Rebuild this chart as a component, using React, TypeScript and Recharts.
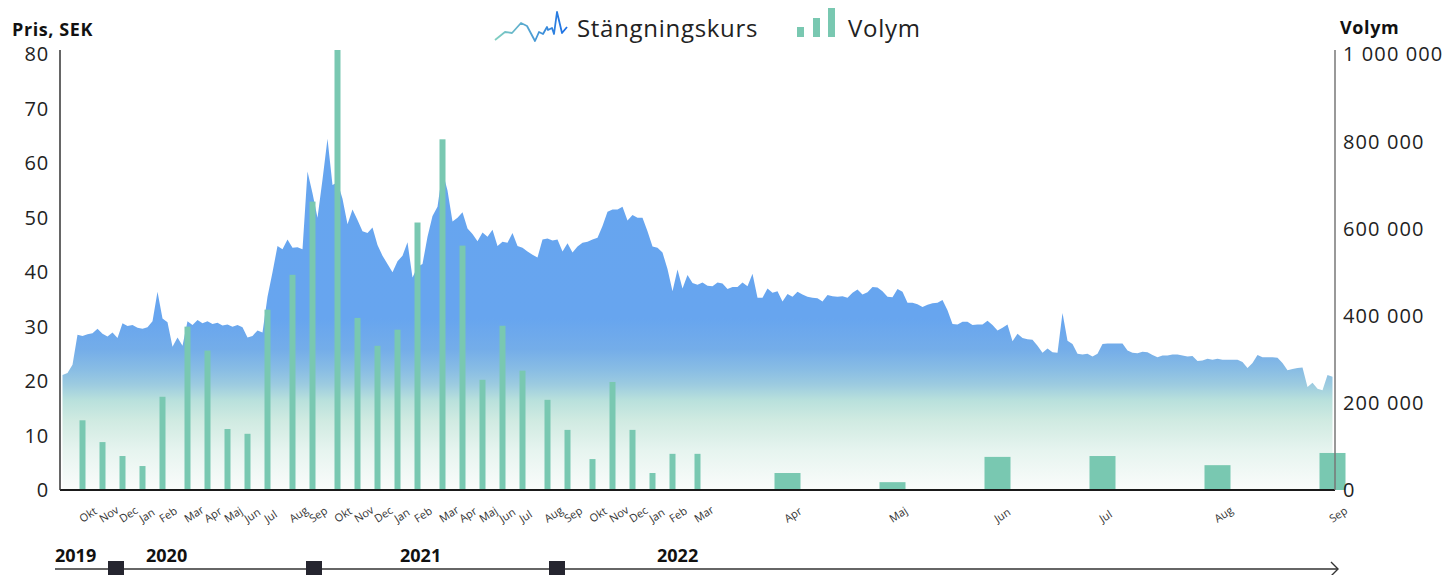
import { ComposedChart, Area, Bar, XAxis, YAxis } from "recharts";

// month names as printed on the axis (Sep 2019 .. Sep 2022)
const months = [
  "Sep", "Okt", "Nov", "Dec",
  "Jan", "Feb", "Mar", "Apr", "Maj", "Jun", "Jul", "Aug", "Sep", "Okt", "Nov", "Dec",
  "Jan", "Feb", "Mar", "Apr", "Maj", "Jun", "Jul", "Aug", "Sep", "Okt", "Nov", "Dec",
  "Jan", "Feb", "Mar", "Apr", "Maj", "Jun", "Jul", "Aug", "Sep"
];

// number of price observations per month (weekly up to Mar 2022, then daily)
const pointsPerMonth = [
  4, 4, 4, 4,
  4, 5, 4, 4, 4, 4, 5, 4, 5, 4, 4, 4,
  4, 5, 4, 4, 4, 4, 5, 4, 5, 4, 4, 4,
  4, 5, 18, 21, 21, 21, 23, 23, 1
];

// from this month on volume is shown as wide bars
const firstDailyMonth = 31;

// monthly volume, shares
const volumes: (number | null)[] = [
  null, 160000, 110000, 78000,
  55000, 214000, 375000, 320000, 140000, 129000, 414000, 494000, 662000, 1010000, 395000, 331000,
  368000, 614000, 805000, 561000, 253000, 377000, 274000, 207000, 138000, 71000, 248000, 138000,
  39000, 83000, 83000, 39000, 18000, 76000, 78000, 57000, 85000
];

// closing price, SEK
const closePrices = [
  21.1, 21.5, 23, 28.5, 28.3, 28.6, 28.8, 29.6, 28.7, 28.2,
  28.9, 27.9, 30.6, 30.1, 30.3, 29.8, 29.6, 29.9, 31, 36.4,
  31.5, 30.8, 26.3, 28, 26.5, 31, 30.3, 31.2, 30.6, 31,
  30.5, 30.7, 30.2, 30.4, 30, 30.3, 29.9, 28, 28.3, 29.3,
  28.9, 35.5, 40, 44.8, 44.2, 46, 44.5, 44.6, 44.2, 58.5,
  54.5, 50, 57, 64.5, 56, 56.5, 53.5, 48.8, 51.5, 49.6,
  47.5, 47.2, 48.2, 45, 43, 41.5, 40, 42, 43, 45.5,
  39, 41, 41.5, 46.5, 50.3, 52, 58.5, 55, 49.3, 50,
  51, 48, 47, 45.7, 47.3, 46.5, 47.8, 44.8, 45.6, 45.4,
  47.2, 44.8, 44.5, 43.8, 43.2, 42.7, 46, 46.2, 45.8, 46,
  43.8, 45.3, 43.6, 44.7, 45.4, 45.6, 46, 46.3, 48.5, 51.1,
  51.5, 51.5, 52, 49.5, 50.5, 50, 50, 47.5, 44.7, 44.5,
  43.6, 40.6, 36.5, 40.5, 37, 39.5, 38, 37.7, 38.1, 37.5,
  37.4, 38.1, 37.9, 36.9, 37.3, 37.3, 38.1, 37.4, 39.7, 35.3,
  35.3, 37, 36.2, 36.5, 34.6, 36, 35.5, 36.4, 35.9, 35.5,
  35.3, 35.2, 34.6, 35.8, 35.6, 35.5, 35.6, 35.3, 36.2, 36.8,
  35.9, 36.3, 37.3, 37.2, 36.5, 35.5, 35.4, 36.9, 36.4, 34.4,
  34.4, 34.1, 33.6, 34, 34.3, 34.4, 34.9, 33, 30.5, 30.4,
  30.9, 30.9, 30.3, 30.4, 30.4, 31.1, 30.3, 29.3, 29.8, 30.4,
  27.3, 28.7, 27.9, 27.7, 27.6, 26.5, 25.2, 26, 25.3, 25.2,
  32.5, 27.4, 26.8, 25, 24.9, 25, 24.5, 25, 26.8, 26.9,
  26.9, 26.9, 26.9, 25.6, 25.2, 25.1, 25.4, 25.3, 24.8, 24.4,
  24.7, 24.7, 24.9, 24.9, 24.7, 24.5, 24.6, 23.7, 23.8, 24.1,
  23.9, 24.1, 23.9, 23.9, 23.9, 23.9, 23.5, 22.4, 23.3, 24.8,
  24.4, 24.4, 24.4, 24.3, 23.3, 22, 22.2, 22.4, 22.5, 18.9,
  19.7, 18.6, 18.3, 21.1, 20.8
];

const priceTicks = [0, 10, 20, 30, 40, 50, 60, 70, 80];
const volumeTicks = [0, 200000, 400000, 600000, 800000, 1000000];
const yearLabels = ["2019", "2020", "2021", "2022"];

type Row = { key: string; price: number; volume: number | null; wide: boolean };

const rows: Row[] = [];
const tickLabels = new Map<string, string>();
let p = 0;
months.forEach((m, mi) => {
  for (let k = 0; k < pointsPerMonth[mi]; k++) {
    const key = mi + "-" + k;
    rows.push({
      key,
      price: closePrices[p++],
      volume: k === 0 ? volumes[mi] : null,
      wide: mi >= firstDailyMonth
    });
    if (k === 0 && volumes[mi] != null) tickLabels.set(key, m);
  }
});

const FONT = "'Open Sans', sans-serif";
const BAR = "#79c8b1";

const fmtVolume = (n: number) =>
  String(n).replace(/\B(?=(\d{3})+(?!\d))/g, " ");

const MonthTick = (props: any) => {
  const { x, y, payload } = props;
  const label = tickLabels.get(payload.value);
  if (!label) return <g />;
  const ty = y + 33;
  return (
    <text
      x={x}
      y={ty}
      transform={`rotate(-33 ${x} ${ty})`}
      fontSize={11}
      fontFamily={FONT}
      fill="#333"
    >
      {label}
    </text>
  );
};

const VolumeBar = (props: any) => {
  const { x, y, width, height, payload } = props;
  if (!height || height <= 0) return <g />;
  const w = payload.wide ? 26 : 6;
  const cx = x + width / 2;
  return <rect x={cx - w / 2} y={y} width={w} height={height} fill={BAR} />;
};

export default function App() {
  return (
    <div style={{ position: "absolute", left: 0, top: 0, width: 1448, height: 575 }}>
      <ComposedChart
        width={1448}
        height={545}
        data={rows}
        margin={{ top: 50, right: 0, bottom: 0, left: 0 }}
      >
        <defs>
          <linearGradient
            id="priceFill"
            gradientUnits="userSpaceOnUse"
            x1="0"
            y1="50"
            x2="0"
            y2="490"
          >
            <stop offset="0" stopColor="#66a5ef" />
            <stop offset="0.61" stopColor="#67a5ef" />
            <stop offset="0.68" stopColor="#74ade9" />
            <stop offset="0.727" stopColor="#89bde4" />
            <stop offset="0.76" stopColor="#9ccbe0" />
            <stop offset="0.795" stopColor="#b8e0dc" />
            <stop offset="0.84" stopColor="#cfeae1" />
            <stop offset="0.91" stopColor="#e6f4ef" />
            <stop offset="1" stopColor="#fafcfb" />
          </linearGradient>
        </defs>

        <XAxis
          dataKey="key"
          type="category"
          interval={0}
          height={55}
          tickSize={0}
          tickMargin={0}
          tickLine={false}
          axisLine={{ stroke: "#1a1a1a", strokeWidth: 2 }}
          tick={<MonthTick />}
        />
        <YAxis
          yAxisId="price"
          width={60}
          domain={[0, 80.8]}
          ticks={priceTicks}
          tickLine={false}
          tickSize={0}
          tickMargin={11}
          axisLine={{ stroke: "#333", strokeWidth: 1.5 }}
          tick={{ fontSize: 20, fontFamily: FONT, fill: "#222", letterSpacing: 0.8 }}
        />
        <YAxis
          yAxisId="vol"
          orientation="right"
          width={113}
          domain={[0, 1010000]}
          ticks={volumeTicks}
          tickFormatter={fmtVolume}
          tickLine={false}
          tickSize={0}
          tickMargin={8}
          axisLine={{ stroke: "#777", strokeWidth: 1.5 }}
          tick={{ fontSize: 20, fontFamily: FONT, fill: "#222", letterSpacing: 1.1 }}
        />

        <Area
          yAxisId="price"
          dataKey="price"
          name="Stängningskurs"
          type="linear"
          stroke="none"
          fill="url(#priceFill)"
          fillOpacity={1}
          dot={false}
          activeDot={false}
          isAnimationActive={false}
        />
        <Bar
          yAxisId="vol"
          dataKey="volume"
          name="Volym"
          shape={VolumeBar}
          isAnimationActive={false}
        />
      </ComposedChart>

      <svg
        width={1448}
        height={575}
        style={{ position: "absolute", left: 0, top: 0, pointerEvents: "none" }}
      >
        <defs>
          <linearGradient id="legendLine" x1="0" y1="0" x2="1" y2="0">
            <stop offset="0" stopColor="#82d0c0" />
            <stop offset="1" stopColor="#1b6fe6" />
          </linearGradient>
        </defs>

        <text x={12} y={36} fontSize={18} fontWeight={700} fontFamily={FONT} fill="#111" letterSpacing={0.6}>
          Pris, SEK
        </text>
        <text x={1340} y={34} fontSize={18} fontWeight={700} fontFamily={FONT} fill="#111" letterSpacing={0.6}>
          Volym
        </text>

        {/* legend */}
        <polyline
          points="495,40 505,32 512,33 521,23 527,26 535,41 539,32 543,34 547,27 548,30 552,28 554,34 557,12 562,33 567,27"
          fill="none"
          stroke="url(#legendLine)"
          strokeWidth={1.8}
          strokeLinejoin="round"
        />
        <text x={577} y={37} fontSize={24} fontFamily={FONT} fill="#222" letterSpacing={0.7}>
          Stängningskurs
        </text>
        <rect x={797} y={27} width={7} height={10} fill={BAR} />
        <rect x={813} y={18} width={7} height={19} fill={BAR} />
        <rect x={828} y={8} width={7} height={29} fill={BAR} />
        <text x={848} y={37} fontSize={24} fontFamily={FONT} fill="#222" letterSpacing={0.7}>
          Volym
        </text>

        {/* timeline */}
        <line x1={55} y1={569} x2={1337} y2={569} stroke="#333" strokeWidth={1.6} />
        <polyline points="1331,562 1338,569 1331,576" fill="none" stroke="#333" strokeWidth={1.4} />
        <rect x={108} y={561} width={16} height={16} fill="#25252f" />
        <rect x={306} y={561} width={16} height={16} fill="#25252f" />
        <rect x={549} y={561} width={16} height={16} fill="#25252f" />
        {yearLabels.map((yl, i) => (
          <text
            key={yl}
            x={[55, 146, 400, 657][i]}
            y={562}
            fontSize={18}
            fontWeight={700}
            fontFamily={FONT}
            fill="#111"
          >
            {yl}
          </text>
        ))}
      </svg>
    </div>
  );
}
